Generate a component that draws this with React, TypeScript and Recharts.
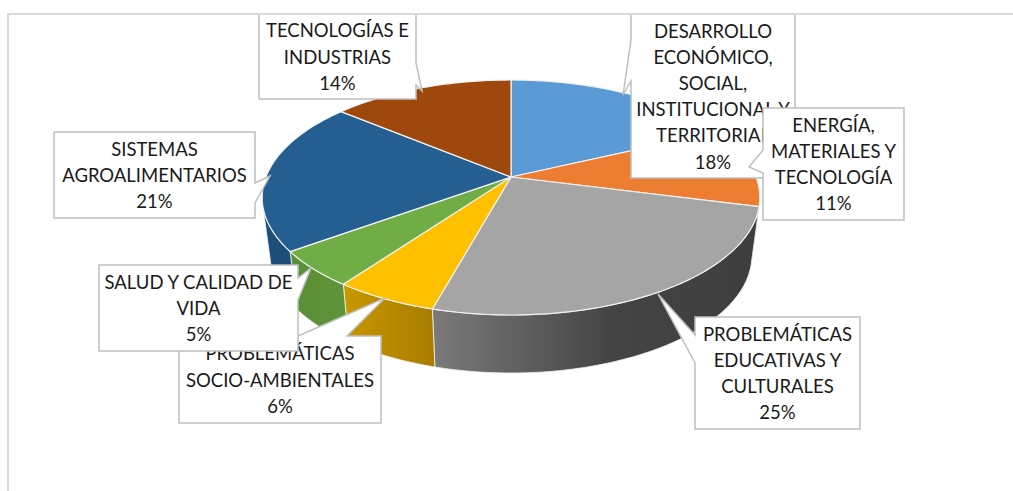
import React from "react";
import { PieChart, Pie } from "recharts";

const categories = [
  "DESARROLLO ECONÓMICO, SOCIAL, INSTITUCIONAL Y TERRITORIAL",
  "ENERGÍA, MATERIALES Y TECNOLOGÍA",
  "PROBLEMÁTICAS EDUCATIVAS Y CULTURALES",
  "PROBLEMÁTICAS SOCIO-AMBIENTALES",
  "SALUD Y CALIDAD DE VIDA",
  "SISTEMAS AGROALIMENTARIOS",
  "TECNOLOGÍAS E INDUSTRIAS",
];
const values = [18, 11, 25.3, 5.7, 5, 21, 14];
const labelLines = [
  ["DESARROLLO", "ECONÓMICO,", "SOCIAL,", "INSTITUCIONAL Y", "TERRITORIAL"],
  ["ENERGÍA,", "MATERIALES Y", "TECNOLOGÍA"],
  ["PROBLEMÁTICAS", "EDUCATIVAS Y", "CULTURALES"],
  ["PROBLEMÁTICAS", "SOCIO-AMBIENTALES"],
  ["SALUD Y CALIDAD DE", "VIDA"],
  ["SISTEMAS", "AGROALIMENTARIOS"],
  ["TECNOLOGÍAS E", "INDUSTRIAS"],
];
const topColors = ["#5b9bd5", "#ed7d31", "#a5a5a5", "#ffc000", "#70ad47", "#255e91", "#9e480e"];
const wallStops: [number, string][][] = [
  [[0, "#3f6f9c"], [1, "#3f6f9c"]],
  [[0, "#3e3e3e"], [1, "#3e3e3e"]],
  [[0, "#7a7a7a"], [0.55, "#444444"], [1, "#3e3e3e"]],
  [[0, "#c99700"], [1, "#a87c00"]],
  [[0, "#5a8f38"], [1, "#5f9439"]],
  [[0, "#1d4e7a"], [1, "#1d4e7a"]],
  [[0, "#6f330a"], [1, "#6f330a"]],
];

// Callout geometry: box [left, top, right, bottom] and outline running clockwise from the pointer.
const callouts = [
  { box: [631, 14, 795, 178], pointer: [[631, 40], [623, 95], [631, 81]], edge: "left" },
  { box: [763, 108, 904, 220], pointer: [[763, 150], [749, 167], [763, 173]], edge: "left" },
  { box: [695, 317, 860, 429], pointer: [[695, 335], [658, 294], [695, 363]], edge: "left" },
  { box: [179, 336, 381, 423], pointer: [[298, 336], [385, 298], [347, 336]], edge: "top" },
  { box: [99, 265, 298, 351], pointer: [[298, 278], [311, 268], [298, 300]], edge: "right" },
  { box: [54, 132, 255, 218], pointer: [[255, 183], [270, 176], [255, 203]], edge: "right" },
  { box: [259, 14, 416, 99], pointer: [[416, 63], [422, 91], [416, 85]], edge: "right" },
];

const rows = categories.map((name, i) => ({ name, value: values[i], fill: topColors[i] }));

const PERSPECTIVE = 0.1745;
const SQUASH = 0.465;
const WALL_DEPTH = 58;
const WALL_NARROW = 0.968;
const FRONT_FROM = 95;
const FRONT_TO = 255;

function rimPoint(cx: number, cy: number, r: number, phiDeg: number): [number, number] {
  const p = (phiDeg * Math.PI) / 180;
  const X = Math.sin(p);
  const Y = -Math.cos(p);
  const d = 1 - PERSPECTIVE * Y;
  return [cx + (r * X) / d, cy + (r * SQUASH * Y) / d];
}

function sweep(a: number, b: number): number[] {
  const out: number[] = [];
  for (let t = a; t < b; t += 1) out.push(t);
  out.push(b);
  return out;
}

function TopSlice(props: any) {
  const { cx, cy, outerRadius, startAngle, endAngle, fill } = props;
  const pts = sweep(90 - startAngle, 90 - endAngle).map((t) => rimPoint(cx, cy, outerRadius, t));
  const d = `M${cx},${cy} ` + pts.map((p) => `L${p[0].toFixed(2)},${p[1].toFixed(2)}`).join(" ") + " Z";
  return <path d={d} fill={fill} stroke="#f2f2f2" strokeWidth={1.2} strokeLinejoin="round" />;
}

function WallSlice(props: any) {
  const { cx, cy, outerRadius, startAngle, endAngle, index } = props;
  const a = Math.max(90 - startAngle, FRONT_FROM);
  const b = Math.min(90 - endAngle, FRONT_TO);
  if (a >= b) return <g />;
  const upper = sweep(a, b).map((t) => rimPoint(cx, cy, outerRadius, t));
  const lower = [...upper]
    .reverse()
    .map((p) => [cx + (p[0] - cx) * WALL_NARROW, p[1] + WALL_DEPTH] as [number, number]);
  const all = [...upper, ...lower];
  const xs = all.map((p) => p[0]);
  const id = `wall-${index}`;
  const d = "M" + all.map((p) => `${p[0].toFixed(2)},${p[1].toFixed(2)}`).join(" L") + " Z";
  return (
    <g>
      <defs>
        <linearGradient id={id} gradientUnits="userSpaceOnUse" x1={Math.min(...xs)} x2={Math.max(...xs)} y1={0} y2={0}>
          {wallStops[index].map(([o, c]) => (
            <stop key={o} offset={o} stopColor={c} />
          ))}
        </linearGradient>
      </defs>
      <path d={d} fill={`url(#${id})`} stroke="#f2f2f2" strokeWidth={0.8} strokeLinejoin="round" />
    </g>
  );
}

function Callout(props: any) {
  const { index, percent } = props;
  const { box, pointer, edge } = callouts[index];
  const [l, t, r, b] = box;
  let outline: number[][] = [];
  if (edge === "left") outline = [[l, t], [r, t], [r, b], [l, b], ...[...pointer].reverse()];
  if (edge === "right") outline = [[l, t], [r, t], ...pointer, [r, b], [l, b]];
  if (edge === "top") outline = [[l, t], ...pointer, [r, t], [r, b], [l, b]];
  const lines = [...labelLines[index], `${Math.round(percent * 100)}%`];
  const midX = (l + r) / 2;
  const midY = (t + b) / 2;
  const step = 26.2;
  return (
    <g>
      <path
        d={"M" + outline.map((p) => p.join(",")).join(" L") + " Z"}
        fill="#ffffff"
        stroke="#bfbfbf"
        strokeWidth={1.5}
      />
      {lines.map((txt, i) => (
        <text
          key={i}
          x={midX}
          y={midY + (i - (lines.length - 1) / 2) * step}
          textAnchor="middle"
          dominantBaseline="central"
          fontFamily="Lato, 'Open Sans', sans-serif"
          fontSize={18.5}
          fill="#1a1a1a"
        >
          {txt}
        </text>
      ))}
    </g>
  );
}

export default function App() {
  return (
    <div style={{ position: "absolute", left: 0, top: 0, width: 1013, height: 491, overflow: "hidden", background: "#fff" }}>
      <PieChart
        width={1013}
        height={491}
        margin={{ top: 0, right: 0, bottom: 0, left: 0 }}
        style={{ position: "absolute", left: 0, top: 0 }}
      >
        <Pie
          data={rows}
          dataKey="value"
          nameKey="name"
          cx={511}
          cy={177}
          innerRadius={0}
          outerRadius={245}
          startAngle={90}
          endAngle={-270}
          isAnimationActive={false}
          shape={WallSlice}
          label={false}
          labelLine={false}
        />
        <Pie
          data={rows}
          dataKey="value"
          nameKey="name"
          cx={511}
          cy={177}
          innerRadius={0}
          outerRadius={245}
          startAngle={90}
          endAngle={-270}
          isAnimationActive={false}
          shape={TopSlice}
          label={Callout}
          labelLine={false}
        />
      </PieChart>
      <div
        style={{
          position: "absolute",
          left: 7,
          top: 13,
          width: 1006,
          height: 478,
          borderTop: "2px solid #d9d9d9",
          borderLeft: "2px solid #d9d9d9",
          boxSizing: "border-box",
          pointerEvents: "none",
        }}
      />
    </div>
  );
}
